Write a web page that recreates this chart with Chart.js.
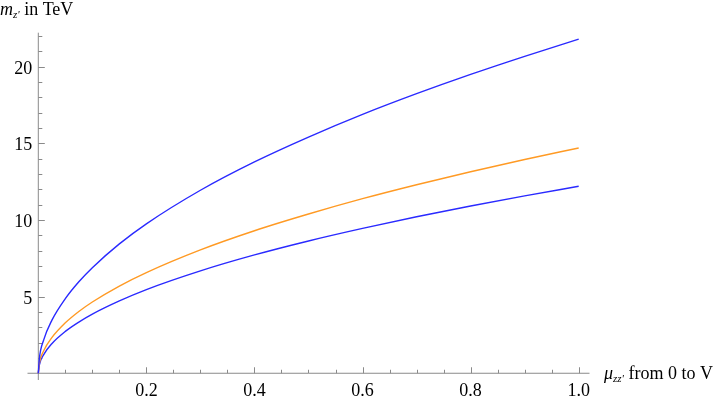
<!DOCTYPE html>
<html>
<head>
<meta charset="utf-8">
<script src="https://cdn.jsdelivr.net/npm/chart.js@4"></script>
<style>
  html, body { margin: 0; padding: 0; background: #fff; }
  #wrap { width: 720px; height: 400px; position: relative; }
</style>
</head>
<body>
<div id="wrap"><canvas id="chartContainer" width="720" height="400"></canvas></div>
<script>
const muValues = [0, 0.002, 0.01, 0.025, 0.05, 0.075, 0.1, 0.15, 0.2, 0.3, 0.4, 0.5, 0.6, 0.7, 0.8, 0.9, 1.0];

// m_z' in TeV
const upperBlue = [0, 0.97, 2.18, 3.45, 4.87, 5.97, 6.89, 8.44, 9.75, 11.94, 13.79, 15.41, 16.89, 18.24, 19.50, 20.68, 21.8];
const middleOrange = [0, 0.66, 1.47, 2.32, 3.29, 4.03, 4.65, 5.69, 6.57, 8.05, 9.30, 10.39, 11.39, 12.30, 13.15, 13.95, 14.7];
const lowerBlue = [0, 0.55, 1.22, 1.93, 2.73, 3.34, 3.86, 4.72, 5.46, 6.68, 7.72, 8.63, 9.45, 10.21, 10.91, 11.57, 12.2];

// tick labels
const xTickLabels = [0.2, 0.4, 0.6, 0.8, 1.0];
const yTickLabels = [5, 10, 15, 20];
const xMinorStep = 0.05;
const yMinorStep = 1;

const xLabel = ['μ', "zz'", ' from 0 to V'];
const yLabel = ['m', "z'", ' in TeV'];

const FONT = '"Liberation Serif", "Times New Roman", serif';

function toPoints(ys) {
    return muValues.map((x, i) => ({ x: x, y: ys[i] }));
}

// Mathematica-like axes through the origin, ticks pointing inward
const axesPlugin = {
    id: 'originAxes',
    beforeDatasetsDraw(chart) {
        const ctx = chart.ctx;
        const xs = chart.scales.x;
        const ys = chart.scales.y;
        const area = chart.chartArea;
        const x0 = xs.getPixelForValue(0);
        const y0 = ys.getPixelForValue(0);

        ctx.save();
        ctx.strokeStyle = '#8a8a8a';
        ctx.lineWidth = 1;

        ctx.beginPath();
        ctx.moveTo(area.left, y0);
        ctx.lineTo(area.right, y0);
        ctx.moveTo(x0, area.top);
        ctx.lineTo(x0, area.bottom);
        ctx.stroke();

        // x ticks
        ctx.beginPath();
        for (let v = xMinorStep; v <= xs.max + 1e-9; v += xMinorStep) {
            const px = Math.round(xs.getPixelForValue(v)) + 0.5;
            const major = xTickLabels.some(t => Math.abs(t - v) < 1e-6);
            ctx.moveTo(px, y0);
            ctx.lineTo(px, y0 - (major ? 6 : 3.5));
        }
        // y ticks
        for (let v = yMinorStep; v <= ys.max + 1e-9; v += yMinorStep) {
            const py = Math.round(ys.getPixelForValue(v)) + 0.5;
            const major = yTickLabels.some(t => Math.abs(t - v) < 1e-6);
            ctx.moveTo(x0, py);
            ctx.lineTo(x0 + (major ? 6.5 : 4), py);
        }
        ctx.stroke();

        ctx.fillStyle = '#000';
        ctx.font = '18px ' + FONT;
        ctx.textAlign = 'center';
        ctx.textBaseline = 'alphabetic';
        xTickLabels.forEach(v => {
            ctx.fillText(v.toFixed(1), xs.getPixelForValue(v), 396);
        });
        ctx.textAlign = 'right';
        yTickLabels.forEach(v => {
            ctx.fillText(String(v), x0 - 6, ys.getPixelForValue(v) + 7);
        });

        // axis labels
        ctx.textAlign = 'left';
        drawLabel(ctx, yLabel, 0, 15);
        drawLabel(ctx, xLabel, 604, 379);
        ctx.restore();
    }
};

function drawLabel(ctx, parts, x, y) {
    ctx.font = 'italic 18px ' + FONT;
    ctx.fillText(parts[0], x, y);
    x += ctx.measureText(parts[0]).width;
    ctx.font = 'italic 11px ' + FONT;
    ctx.fillText(parts[1], x, y + 3);
    x += ctx.measureText(parts[1]).width;
    ctx.font = '18px ' + FONT;
    ctx.fillText(parts[2], x, y);
}

const lineStyle = {
    borderWidth: 1.4,
    pointRadius: 0,
    fill: false,
    cubicInterpolationMode: 'monotone'
};

const ctx = document.getElementById('chartContainer').getContext('2d');
const chart = new Chart(ctx, {
    type: 'line',
    data: {
        datasets: [
            Object.assign({ label: 'upper', data: toPoints(upperBlue), borderColor: '#2a2aff' }, lineStyle),
            Object.assign({ label: 'middle', data: toPoints(middleOrange), borderColor: '#ff9a24' }, lineStyle),
            Object.assign({ label: 'lower', data: toPoints(lowerBlue), borderColor: '#2a2aff' }, lineStyle)
        ]
    },
    options: {
        responsive: false,
        animation: false,
        layout: { padding: { left: 27.5, right: 130.5, top: 32.7, bottom: 20 } },
        plugins: { legend: { display: false }, tooltip: { enabled: false } },
        scales: {
            x: { type: 'linear', min: -0.02, max: 1.02, display: false },
            y: { type: 'linear', min: -0.44, max: 22.22, display: false }
        }
    },
    plugins: [axesPlugin]
});
</script>
</body>
</html>
